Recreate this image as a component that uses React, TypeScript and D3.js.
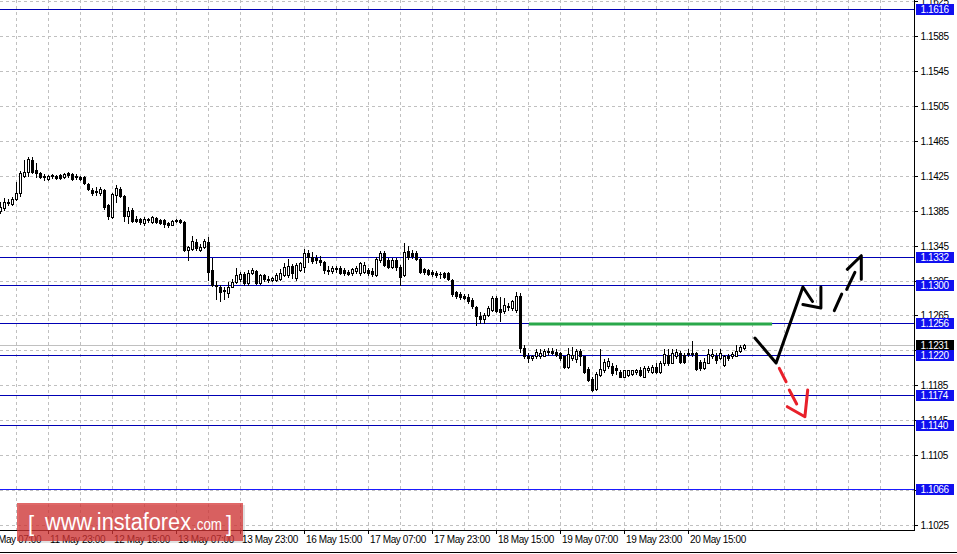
import React from "react";
import * as d3 from "d3";

// H1 candles, prices in pips (x 1e-4)
const OPEN = [
  11385,11388,11394,11393,11398,11405,11425,11429,11443,11432,
  11428,11425,11421,11425,11425,11426,11424,11428,11427,11424,
  11424,11424,11416,11409,11408,11405,11409,11392,11378,11403,
  11410,11402,11379,11386,11376,11376,11371,11374,11372,11377,
  11374,11374,11371,11369,11373,11374,11372,11340,11341,11349,
  11340,11343,11349,11317,11300,11298,11294,11291,11298,11303,
  11307,11313,11302,11314,11316,11302,11311,11307,11306,11306,
  11307,11311,11311,11322,11308,11317,11321,11337,11332,11331,
  11329,11326,11317,11316,11318,11319,11317,11315,11314,11316,
  11314,11315,11317,11316,11311,11329,11337,11329,11321,11329,
  11321,11311,11339,11337,11337,11330,11318,11317,11315,11314,
  11313,11314,11314,11306,11292,11289,11287,11286,11283,11275,
  11264,11261,11266,11271,11285,11272,11270,11275,11274,11271,
  11287,11228,11218,11216,11218,11219,11219,11223,11224,11223,
  11222,11218,11206,11216,11215,11224,11218,11204,11192,11181,
  11197,11202,11207,11207,11205,11200,11195,11197,11198,11200,
  11203,11195,11202,11200,11206,11200,11210,11220,11211,11218,
  11222,11220,11222,11221,11222,11212,11205,11211,11218,11219,
  11216,11208,11219,11218,11219,11224,11228,
];
const CLOSE = [
  11389,11395,11395,11398,11405,11428,11429,11444,11429,11428,
  11424,11424,11425,11426,11422,11422,11427,11426,11421,11425,
  11421,11417,11410,11405,11406,11410,11389,11379,11404,11411,
  11402,11379,11385,11373,11373,11372,11376,11375,11378,11372,
  11371,11370,11368,11373,11374,11372,11340,11343,11350,11342,
  11343,11350,11315,11300,11299,11292,11293,11298,11303,11311,
  11313,11302,11314,11317,11302,11311,11307,11306,11308,11311,
  11314,11321,11322,11314,11323,11325,11337,11332,11327,11329,
  11326,11317,11316,11319,11319,11314,11314,11313,11318,11319,
  11325,11323,11314,11313,11330,11337,11323,11321,11329,11321,
  11309,11338,11332,11333,11330,11315,11315,11313,11313,11311,
  11312,11309,11307,11289,11287,11286,11285,11281,11276,11264,
  11261,11266,11274,11285,11270,11269,11277,11276,11281,11287,
  11228,11218,11216,11218,11223,11222,11224,11224,11222,11220,
  11216,11206,11221,11220,11224,11218,11200,11191,11180,11198,
  11204,11212,11213,11199,11202,11195,11202,11202,11202,11202,
  11197,11205,11205,11206,11200,11211,11221,11211,11222,11223,
  11212,11212,11221,11222,11204,11205,11212,11221,11221,11214,
  11222,11218,11216,11221,11224,11229,11231,
];
const HIGH = [
  11395,11400,11398,11401,11418,11430,11443,11447,11447,11439,
  11429,11427,11426,11427,11426,11427,11428,11429,11428,11427,
  11425,11425,11417,11411,11412,11412,11410,11393,11405,11414,
  11412,11403,11389,11388,11379,11377,11378,11377,11379,11378,
  11376,11376,11372,11374,11376,11376,11373,11345,11356,11353,
  11347,11353,11355,11331,11305,11300,11298,11303,11307,11319,
  11315,11315,11317,11319,11317,11313,11313,11310,11309,11314,
  11318,11325,11330,11324,11325,11326,11341,11340,11338,11334,
  11333,11327,11322,11322,11322,11322,11319,11317,11319,11322,
  11326,11326,11319,11319,11332,11339,11339,11331,11331,11331,
  11323,11348,11345,11340,11339,11331,11319,11318,11317,11316,
  11315,11315,11315,11307,11293,11292,11290,11289,11285,11276,
  11269,11268,11276,11287,11287,11286,11285,11279,11283,11292,
  11291,11231,11222,11220,11226,11226,11226,11228,11228,11226,
  11223,11219,11228,11229,11227,11226,11219,11206,11195,11200,
  11227,11215,11216,11210,11208,11202,11203,11203,11203,11204,
  11206,11207,11207,11208,11210,11213,11226,11226,11226,11227,
  11224,11222,11226,11236,11223,11214,11216,11226,11227,11222,
  11226,11220,11221,11223,11231,11231,11232,
];
const LOW = [
  11382,11386,11392,11392,11397,11402,11424,11425,11428,11424,
  11422,11420,11420,11422,11421,11421,11422,11424,11420,11421,
  11420,11416,11409,11403,11403,11403,11387,11376,11377,11395,
  11401,11373,11371,11372,11372,11370,11369,11372,11371,11371,
  11370,11366,11366,11368,11372,11371,11339,11329,11340,11340,
  11339,11342,11306,11299,11284,11282,11284,11286,11297,11302,
  11305,11300,11300,11313,11301,11301,11305,11303,11305,11305,
  11306,11310,11309,11308,11306,11316,11315,11326,11325,11325,
  11323,11314,11313,11314,11315,11313,11311,11311,11311,11314,
  11311,11314,11311,11310,11310,11326,11322,11319,11319,11317,
  11300,11310,11330,11331,11329,11314,11313,11311,11310,11309,
  11308,11308,11306,11287,11285,11284,11284,11279,11274,11254,
  11256,11256,11264,11270,11269,11259,11268,11271,11271,11269,
  11223,11216,11212,11214,11216,11216,11218,11220,11221,11219,
  11214,11205,11205,11214,11212,11208,11199,11190,11179,11180,
  11196,11200,11205,11197,11198,11194,11194,11196,11197,11198,
  11196,11194,11200,11199,11199,11199,11208,11208,11210,11216,
  11211,11211,11219,11219,11203,11203,11204,11210,11216,11211,
  11215,11207,11214,11216,11218,11223,11227,
];

const PRICE_TICKS = [
  "1.1625","1.1585","1.1545","1.1505","1.1465","1.1425","1.1385","1.1345",
  "1.1305","1.1265","1.1225","1.1185","1.1145","1.1105","1.1065","1.1025",
];
const LEVELS = [1.1616, 1.1332, 1.13, 1.1256, 1.122, 1.1174, 1.114];
const LOW_LEVEL = 1.1066;
const BID = 1.1231;

const TIME_LABELS = [
  "11 May 07:00","11 May 23:00","12 May 15:00","13 May 07:00","13 May 23:00","16 May 15:00",
  "17 May 07:00","17 May 23:00","18 May 15:00","19 May 07:00","19 May 23:00","20 May 15:00",
];
const TIME_BARS = [-4, 12, 28, 44, 60, 76, 92, 108, 124, 140, 156, 172];
const GRID_BARS = d3.range(4, 221, 8);

// annotation drawings in [bar index, price]
const GREEN_ZONE: [number, number][] = [[132.1, 1.12552], [192.9, 1.12552]];
const BLACK_PATH: [number, number][] = [[188.6, 1.12391], [193.9, 1.12105], [200.6, 1.12976], [203.0, 1.1281]];
const BLACK_HEAD: [number, number][] = [[200.6, 1.12775], [205.1, 1.12735], [205.1, 1.12976]];
const DASH_SEGS: [number, number][][] = [
  [[208.45, 1.12704], [210.3, 1.12895]],
  [[211.55, 1.12949], [213.6, 1.13144]],
];
const DASH_HEAD: [number, number][] = [[211.7, 1.13178], [215.2, 1.13334], [215.2, 1.13064]];
const RED_SEGS: [number, number][][] = [
  [[194.7, 1.12044], [196.4, 1.11891]],
  [[197.2, 1.11796], [199.05, 1.11636]],
];
const RED_HEAD: [number, number][] = [[196.7, 1.11605], [201.1, 1.1149], [201.8, 1.11796]];

const W = 957;
const H = 554;
const RIGHT = 914;
const BOTTOM = 530;
const FONT = "'Liberation Sans', Arial, sans-serif";

export default function App() {
  const x = d3.scaleLinear().domain([0, 186]).range([0.5, 744.5]);
  const y = d3.scaleLinear().domain([1.1025, 1.1585]).range([525, 36]);
  const line = d3
    .line<[number, number]>()
    .x((d) => x(d[0]))
    .y((d) => y(d[1]));
  const crisp = (v: number) => Math.round(v) + 0.5;

  const candles = OPEN.map((o, i) => {
    const op = o / 1e4;
    const cp = CLOSE[i] / 1e4;
    const hp = HIGH[i] / 1e4;
    const lp = LOW[i] / 1e4;
    const cx = x(i);
    const px = Math.floor(cx);
    const yh = Math.round(y(hp));
    const yl = Math.round(y(lp));
    const yo = Math.round(y(op));
    const yc = Math.round(y(cp));
    const top = Math.min(yo, yc);
    const bot = Math.max(yo, yc);
    const bull = cp > op;
    return (
      <g key={i}>
        <rect x={px} y={yh} width={1} height={yl - yh + 1} fill="#000" />
        {bot - top < 2 ? (
          <rect x={px - 1} y={top} width={3} height={bot - top + 1} fill="#000" />
        ) : bull ? (
          <rect x={px - 0.5} y={top + 0.5} width={2} height={bot - top} fill="#fff" stroke="#000" strokeWidth={1} />
        ) : (
          <rect x={px - 1} y={top} width={3} height={bot - top + 1} fill="#000" />
        )}
      </g>
    );
  });

  const allLevels = [...LEVELS, LOW_LEVEL];

  return (
    <div style={{ position: "absolute", left: 0, top: 0 }}>
      <svg width={W} height={H} style={{ display: "block" }}>
        <rect x={0} y={0} width={W} height={H} fill="#fff" />
        {/* grid */}
        {PRICE_TICKS.map((t) => (
          <line key={"hg" + t} x1={0} x2={RIGHT} y1={crisp(y(+t))} y2={crisp(y(+t))} stroke="#c0c0c0" strokeDasharray="3,3" />
        ))}
        {GRID_BARS.map((b) => (
          <line key={"vg" + b} x1={x(b)} x2={x(b)} y1={0} y2={BOTTOM} stroke="#c0c0c0" strokeDasharray="3,3" />
        ))}
        {/* levels */}
        {LEVELS.map((p) => (
          <line key={"lv" + p} x1={0} x2={RIGHT} y1={crisp(y(p))} y2={crisp(y(p))} stroke="#0000b4" strokeWidth={1} />
        ))}
        <line x1={0} x2={RIGHT} y1={crisp(y(LOW_LEVEL))} y2={crisp(y(LOW_LEVEL))} stroke="#1a1aff" strokeWidth={1} />
        <line x1={0} x2={RIGHT} y1={crisp(y(BID))} y2={crisp(y(BID))} stroke="#c0c0c0" />
        <path d={line(GREEN_ZONE) || ""} stroke="#2aa84a" strokeWidth={3} fill="none" />
        {candles}
        {/* annotations */}
        <g fill="none" strokeLinecap="round" strokeLinejoin="round">
          <path d={line(BLACK_PATH) || ""} stroke="#000" strokeWidth={3} />
          <path d={line(BLACK_HEAD) || ""} stroke="#000" strokeWidth={3} />
          {DASH_SEGS.map((s, k) => (
            <path key={"ds" + k} d={line(s) || ""} stroke="#000" strokeWidth={3} />
          ))}
          <path d={line(DASH_HEAD) || ""} stroke="#000" strokeWidth={3} />
          {RED_SEGS.map((s, k) => (
            <path key={"rs" + k} d={line(s) || ""} stroke="#e8202a" strokeWidth={3} />
          ))}
          <path d={line(RED_HEAD) || ""} stroke="#e8202a" strokeWidth={3} />
        </g>
        {/* axes frame */}
        <line x1={RIGHT + 0.5} x2={RIGHT + 0.5} y1={0} y2={BOTTOM + 1} stroke="#000" />
        <line x1={0} x2={RIGHT + 1} y1={BOTTOM + 0.5} y2={BOTTOM + 0.5} stroke="#000" />
        {/* price axis */}
        {PRICE_TICKS.map((t) => (
          <g key={"pt" + t}>
            <line x1={RIGHT} x2={RIGHT + 4} y1={crisp(y(+t))} y2={crisp(y(+t))} stroke="#000" />
            <text x={920.5} y={Math.round(y(+t)) + 4} fontFamily={FONT} fontSize={10} letterSpacing={-0.4} fill="#000">
              {t}
            </text>
          </g>
        ))}
        {/* bid label */}
        <rect x={916} y={Math.round(y(BID)) - 5} width={38} height={11} fill="#000" />
        <text x={920.5} y={Math.round(y(BID)) + 4} fontFamily={FONT} fontSize={10} letterSpacing={-0.4} fill="#fff">
          {BID.toFixed(4)}
        </text>
        {allLevels.map((p) => (
          <g key={"lb" + p}>
            <rect x={916} y={Math.round(y(p)) - 5} width={38} height={11} fill="#1010f0" />
            <text x={920.5} y={Math.round(y(p)) + 4} fontFamily={FONT} fontSize={10} letterSpacing={-0.4} fill="#fff">
              {p.toFixed(4)}
            </text>
          </g>
        ))}
        {/* time axis */}
        {TIME_BARS.map((b, k) => (
          <g key={"ta" + b}>
            <line x1={x(b)} x2={x(b)} y1={BOTTOM} y2={BOTTOM + 4} stroke="#000" />
            <text x={x(b) + 1.5} y={543} fontFamily={FONT} fontSize={10} letterSpacing={-0.4} fill="#000">
              {TIME_LABELS[k]}
            </text>
          </g>
        ))}
        <line x1={0} x2={W} y1={552.5} y2={552.5} stroke="#000" />
        {/* watermark */}
        <rect x={19} y={505} width={226} height={38} fill="#000" opacity={0.12} />
        <rect x={17} y={503} width={226} height={38} fill="#d63636" opacity={0.75} />
        <g fill="#fff" fontFamily={FONT}>
          <text x={28} y={531} fontSize={22} fontWeight={300}>[</text>
          <text x={45} y={529.5} fontSize={23} textLength={146} lengthAdjust="spacingAndGlyphs">www.instaforex</text>
          <text x={193} y={529.5} fontSize={16} textLength={29} lengthAdjust="spacingAndGlyphs">.com</text>
          <text x={226} y={531} fontSize={22}>]</text>
        </g>
      </svg>
    </div>
  );
}
